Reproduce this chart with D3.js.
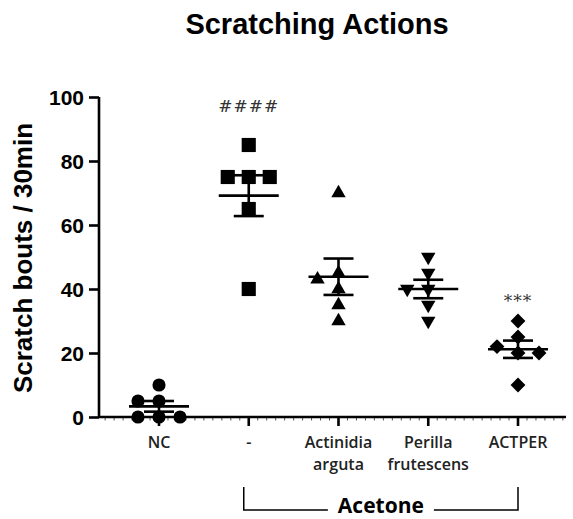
<!DOCTYPE html>
<html>
<head>
<meta charset="utf-8">
<script src="https://cdn.jsdelivr.net/npm/d3@7"></script>
<style>
  body { margin: 0; background: #fff; }
  svg { display: block; }
</style>
</head>
<body>
<svg id="chart" width="573" height="519"></svg>
<script>
// groups on the x axis
const groups = ['NC', '-', 'Actinidia arguta', 'Perilla frutescens', 'ACTPER'];
const groupLabels = [['NC'], ['-'], ['Actinidia', 'arguta'], ['Perilla', 'frutescens'], ['ACTPER']];
// scratch bouts per animal
const ncValues = [10, 5, 5, 0, 0, 0];
const acetoneValues = [85, 75, 75, 75, 65, 40];
const actinidiaValues = [70, 45, 43, 40, 35, 30];
const perillaValues = [50, 45, 40, 40, 35, 30];
const actperValues = [30, 25, 22, 20, 20, 10];
const yTicks = [0, 20, 40, 60, 80, 100];
const marks = ['', '####', '', '', '***'];

const seriesValues = [ncValues, acetoneValues, actinidiaValues, perillaValues, actperValues];

const svg = d3.select('#chart');
const margin = {top: 97, bottom: 102, left: 99, right: 7};
const W = +svg.attr('width'), H = +svg.attr('height');

let y = d3.scaleLinear().domain([0, 100]).range([H - margin.bottom, margin.top]);
let x = d3.scalePoint().domain(groups).range([159, 518]);
const step = x.step();

// title
svg.append('text')
    .attr('x', 317).attr('y', 34)
    .attr('text-anchor', 'middle')
    .style('font', 'bold 29px "Liberation Sans", Arial, sans-serif')
    .text('Scratching Actions');

// y axis
let yAxis = svg.append('g')
    .attr('transform', `translate(${margin.left},0)`)
    .call(d3.axisLeft(y).tickValues(yTicks).tickSize(10).tickPadding(5));
yAxis.select('.domain').attr('stroke-width', 2.6).attr('d', `M0,${y(100)}V${y(0)}`);
yAxis.selectAll('.tick line').attr('stroke-width', 2.6);
yAxis.selectAll('.tick text')
    .style('font', 'bold 21px "Liberation Sans", Arial, sans-serif')
    .attr('dy', '0.36em');

svg.append('text')
    .attr('transform', `translate(32,${(y(0) + y(100)) / 2 + 1}) rotate(-90)`)
    .attr('text-anchor', 'middle')
    .style('font', 'bold 26px "Liberation Sans", Arial, sans-serif')
    .text('Scratch bouts / 30min');

// x axis with the small minor ticks between groups
const axisY = y(0);
const xStart = margin.left, xEnd = W - margin.right;
let minor = d3.range(Math.ceil((xStart - x(groups[0])) / (step / 10)), Math.floor((xEnd - x(groups[0])) / (step / 10)) + 1)
    .map(i => x(groups[0]) + i * step / 10);
svg.append('g').selectAll('line')
    .data(minor)
    .enter().append('line')
    .attr('x1', d => d).attr('x2', d => d)
    .attr('y1', axisY).attr('y2', axisY + 3.5)
    .attr('stroke', '#555').attr('stroke-width', 1);
svg.append('line')
    .attr('x1', xStart).attr('x2', xEnd)
    .attr('y1', axisY).attr('y2', axisY)
    .attr('stroke', '#000').attr('stroke-width', 2.6);
svg.append('g').selectAll('line')
    .data(groups)
    .enter().append('line')
    .attr('x1', d => x(d)).attr('x2', d => x(d))
    .attr('y1', axisY).attr('y2', axisY + 9)
    .attr('stroke', '#000').attr('stroke-width', 2.6);

let xLabels = svg.append('g').selectAll('text')
    .data(groups)
    .enter().append('text')
    .attr('x', d => x(d)).attr('y', 448)
    .attr('text-anchor', 'middle')
    .style('font', '600 16px "Open Sans", sans-serif')
    .style('fill', '#222');
xLabels.selectAll('tspan')
    .data((d, i) => groupLabels[i])
    .enter().append('tspan')
    .attr('x', function(){ return this.parentNode.getAttribute('x'); })
    .attr('dy', (d, i) => i ? 22 : 0)
    .text(d => d);

// Acetone bracket
const bx0 = x(groups[1]) - 5, bx1 = x(groups[4]);
const bTop = 487, bBot = 510, bMid = (bx0 + bx1) / 2;
svg.append('path')
    .attr('d', `M${bx0},${bTop}V${bBot}H${bMid - 53}M${bMid + 53},${bBot}H${bx1}V${bTop}`)
    .attr('fill', 'none').attr('stroke', '#000').attr('stroke-width', 1.5);
svg.append('text')
    .attr('x', bMid).attr('y', 513)
    .attr('text-anchor', 'middle')
    .style('font', 'bold 21px "Open Sans", sans-serif')
    .text('Acetone');

// simple swarm: push a point sideways until it clears the ones already placed
function swarm(values){
    const sx = 10.5, hw = 19, hh = 15;
    let placed = [];
    let order = values.map((v, i) => i).sort((a, b) => values[b] - values[a]);
    let offsets = new Array(values.length);
    for(const i of order){
        const py = y(values[i]);
        for(let k = 0; k < 40; k++){
            const dx = (k % 2 ? -1 : 1) * Math.ceil(k / 2) * sx;
            const hit = placed.some(p => Math.abs(p.dx - dx) < hw && Math.abs(p.py - py) < hh);
            if(!hit){
                placed.push({dx: dx, py: py});
                offsets[i] = dx;
                break;
            }
        }
    }
    return offsets;
}

const shapes = [
    {type: d3.symbolCircle, size: 135, rotate: 0},
    {type: d3.symbolSquare, size: 200, rotate: 0},
    {type: d3.symbolTriangle, size: 90, rotate: 0},
    {type: d3.symbolTriangle, size: 90, rotate: 180},
    {type: d3.symbolSquare, size: 110, rotate: 45}
];

groups.forEach(function(g, gi){
    const vals = seriesValues[gi];
    const offs = swarm(vals);
    const cx = x(g);
    const shape = shapes[gi];
    svg.append('g').selectAll('path')
        .data(vals)
        .enter().append('path')
        .attr('d', d3.symbol().type(shape.type).size(shape.size))
        .attr('transform', (d, i) => `translate(${cx + offs[i]},${y(d)}) rotate(${shape.rotate})`)
        .attr('fill', '#000');

    // mean and SEM
    const mean = d3.mean(vals);
    const sem = d3.deviation(vals) / Math.sqrt(vals.length);
    let eb = svg.append('g').attr('stroke', '#000').attr('stroke-width', 2.6).attr('fill', 'none');
    eb.append('line').attr('x1', cx - 30).attr('x2', cx + 30).attr('y1', y(mean)).attr('y2', y(mean));
    eb.append('line').attr('x1', cx).attr('x2', cx).attr('y1', y(mean + sem)).attr('y2', y(mean - sem));
    eb.append('line').attr('x1', cx - 15).attr('x2', cx + 15).attr('y1', y(mean + sem)).attr('y2', y(mean + sem));
    eb.append('line').attr('x1', cx - 15).attr('x2', cx + 15).attr('y1', y(mean - sem)).attr('y2', y(mean - sem));

    if(marks[gi]){
        svg.append('text')
            .attr('x', cx).attr('y', y(d3.max(vals)) - (gi === 1 ? 33 : 14))
            .attr('text-anchor', 'middle')
            .style('font', '17px "DejaVu Serif", serif')
            .style('letter-spacing', '1px')
            .style('fill', '#333')
            .text(marks[gi]);
    }
});
</script>
</body>
</html>
